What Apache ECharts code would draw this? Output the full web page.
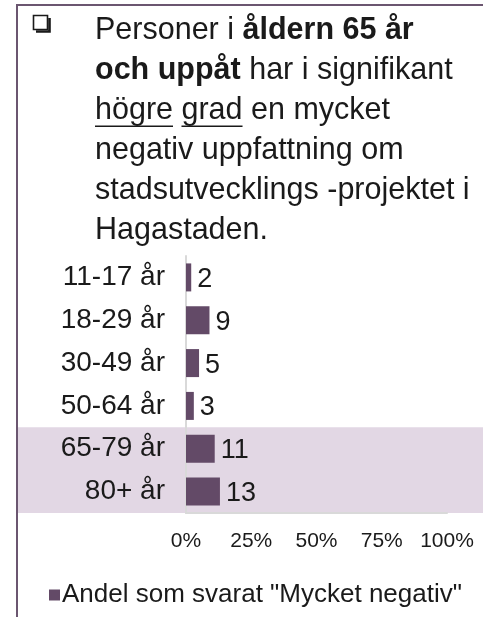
<!DOCTYPE html>
<html>
<head>
<meta charset="utf-8">
<script src="https://cdn.jsdelivr.net/npm/echarts@6/dist/echarts.min.js"></script>
<style>
  html, body { margin: 0; padding: 0; background: #fff; }
  #main { width: 483px; height: 617px; }
</style>
</head>
<body>
<div id="main"></div>
<script>
// åldersgrupper och andel "Mycket negativ" (%)
var categories = ['11-17 år', '18-29 år', '30-49 år', '50-64 år', '65-79 år', '80+ år']
var values = [2, 9, 5, 3, 11, 13]
var highlighted = ['65-79 år', '80+ år']
var xTicks = [0, 25, 50, 75, 100]
var seriesName = 'Andel som svarat "Mycket negativ"'

var FONT = '"Liberation Sans", Arial, sans-serif'
var BAR = '#634a67'
var BAND = '#e2d7e4'
var FRAME = '#6b5670'
var TXT = '#1a1a1a'
var TITLE_SIZE = 30.5
var TITLE_LH = 40
var TITLE_LEFT = 95
var TITLE_TOP = 11

var chart = echarts.init(document.getElementById('main'))

var option = {
  animation: false,
  textStyle: { fontFamily: FONT },
  title: {
    left: TITLE_LEFT,
    top: TITLE_TOP,
    padding: 0,
    text: [
      'Personer i {b|åldern 65 år}',
      '{b|och uppåt} har i signifikant',
      'högre grad en mycket',
      'negativ uppfattning om',
      'stadsutvecklings -projektet i',
      'Hagastaden.'
    ].join('\n'),
    textStyle: {
      fontFamily: FONT,
      fontSize: TITLE_SIZE,
      fontWeight: 'normal',
      color: TXT,
      lineHeight: TITLE_LH,
      rich: {
        b: { fontFamily: FONT, fontSize: TITLE_SIZE, fontWeight: 'bold', color: TXT, lineHeight: TITLE_LH }
      }
    }
  },
  legend: {
    left: 44,
    top: 577,
    itemWidth: 11,
    itemHeight: 11,
    itemGap: 0,
    icon: 'rect',
    textStyle: { fontFamily: FONT, fontSize: 26, color: TXT, padding: [0, 0, 0, -3] },
    data: [seriesName]
  },
  grid: { left: 186, right: 36, top: 256, bottom: 104 },
  xAxis: {
    type: 'value',
    min: 0,
    max: 100,
    interval: 25,
    axisLine: { show: true, lineStyle: { color: '#d9d9d9', width: 2 } },
    axisTick: { show: false },
    splitLine: { show: false },
    axisLabel: {
      fontFamily: FONT,
      fontSize: 21,
      color: TXT,
      margin: 18,
      formatter: function (v) { return xTicks.indexOf(v) >= 0 ? v + '%' : '' }
    }
  },
  yAxis: {
    type: 'category',
    inverse: true,
    data: categories,
    axisLine: { show: true, lineStyle: { color: '#d9d9d9', width: 2 } },
    axisTick: { show: false },
    axisLabel: { fontFamily: FONT, fontSize: 28, color: TXT, margin: 21 }
  },
  series: [{
    name: seriesName,
    type: 'bar',
    data: values,
    barWidth: 28,
    itemStyle: { color: BAR },
    label: {
      show: true,
      position: 'right',
      distance: 6,
      fontFamily: FONT,
      fontSize: 27,
      color: TXT,
      offset: [0, 2]
    },
    z: 3
  }]
}

chart.setOption(option)

// bakgrundsband för de markerade åldersgrupperna, från axelns skala
var yTop = chart.convertToPixel({ yAxisIndex: 0 }, highlighted[0])
var yBot = chart.convertToPixel({ yAxisIndex: 0 }, highlighted[highlighted.length - 1])
var step = chart.convertToPixel({ yAxisIndex: 0 }, categories[1]) - chart.convertToPixel({ yAxisIndex: 0 }, categories[0])

// understrykning av "högre" och "grad" på rad 3
var ctx = document.createElement('canvas').getContext('2d')
ctx.font = TITLE_SIZE + 'px ' + FONT
var w1 = ctx.measureText('högre').width
var w2 = ctx.measureText('högre ').width
var w3 = ctx.measureText('högre grad').width
var uy = TITLE_TOP + TITLE_LH * 2.5 + TITLE_SIZE * 0.5

chart.setOption({
  graphic: [
    {
      type: 'rect', z: -10, silent: true,
      shape: { x: 18, y: yTop - step / 2, width: 483 - 18, height: (yBot - yTop) + step },
      style: { fill: BAND }
    },
    // ram
    { type: 'line', shape: { x1: 17, y1: 5, x2: 483, y2: 5 }, style: { stroke: FRAME, lineWidth: 2 } },
    { type: 'line', shape: { x1: 17, y1: 4, x2: 17, y2: 617 }, style: { stroke: FRAME, lineWidth: 2 } },
    // kryssruta
    { type: 'rect', shape: { x: 33.5, y: 15.5, width: 14, height: 14 }, style: { fill: 'none', stroke: TXT, lineWidth: 1.6 } },
    { type: 'polyline', shape: { points: [[36, 31.5], [49.5, 31.5], [49.5, 18]] }, style: { fill: 'none', stroke: TXT, lineWidth: 2.6 } },
    { type: 'line', shape: { x1: TITLE_LEFT, y1: uy, x2: TITLE_LEFT + w1, y2: uy }, style: { stroke: TXT, lineWidth: 1.5 } },
    { type: 'line', shape: { x1: TITLE_LEFT + w2, y1: uy, x2: TITLE_LEFT + w3, y2: uy }, style: { stroke: TXT, lineWidth: 1.5 } }
  ]
})
</script>
</body>
</html>
